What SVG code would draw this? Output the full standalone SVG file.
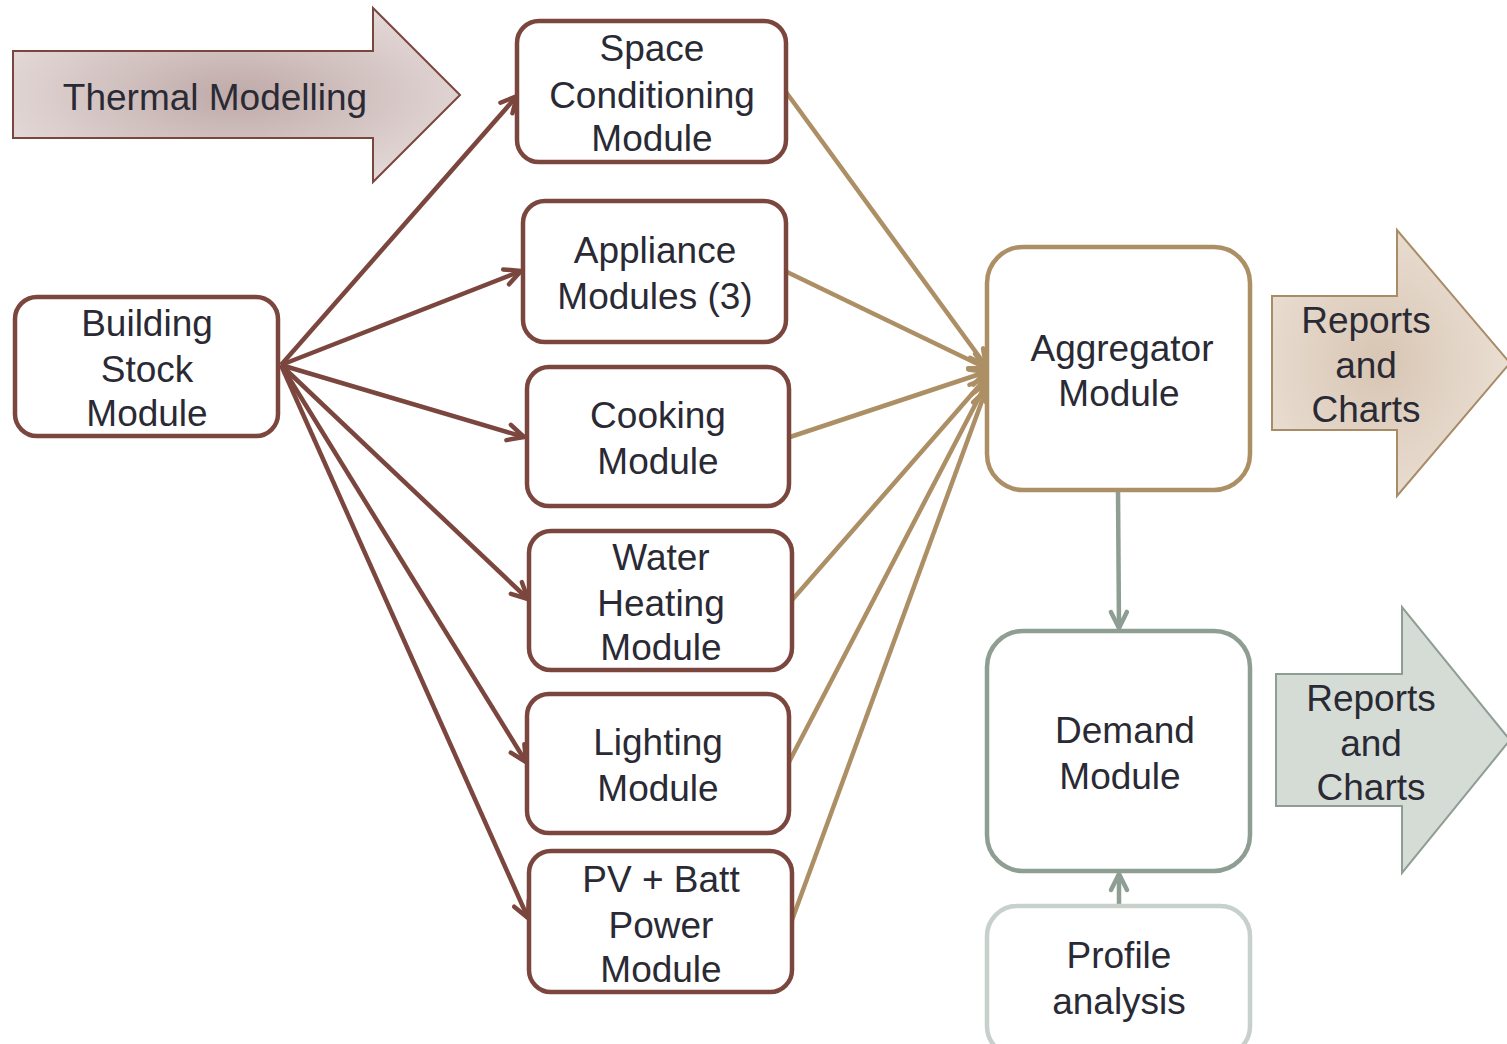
<svg xmlns="http://www.w3.org/2000/svg" width="1507" height="1044" viewBox="0 0 1507 1044">
<defs>
<radialGradient id="gThermal" cx="0.5" cy="0.5" r="0.6">
<stop offset="0" stop-color="#bfaaa8"/><stop offset="1" stop-color="#e6dcdb"/>
</radialGradient>
<radialGradient id="gTan" cx="0.45" cy="0.5" r="0.6">
<stop offset="0" stop-color="#d8c5b3"/><stop offset="1" stop-color="#ebe1d6"/>
</radialGradient>
<marker id="mBrown" viewBox="0 0 24 24" refX="20" refY="12" markerWidth="24" markerHeight="24" markerUnits="userSpaceOnUse" orient="auto">
<path d="M4,4 L20,12 L4,20" fill="none" stroke="#7b463e" stroke-width="4.5" stroke-linecap="round" stroke-linejoin="round"/>
</marker>
<marker id="mTan" viewBox="0 0 24 24" refX="20" refY="12" markerWidth="24" markerHeight="24" markerUnits="userSpaceOnUse" orient="auto">
<path d="M4,4 L20,12 L4,20" fill="none" stroke="#ad8f66" stroke-width="4.5" stroke-linecap="round" stroke-linejoin="round"/>
</marker>
<marker id="mGrey" viewBox="0 0 24 24" refX="20" refY="12" markerWidth="24" markerHeight="24" markerUnits="userSpaceOnUse" orient="auto">
<path d="M4,4 L20,12 L4,20" fill="none" stroke="#8e9e93" stroke-width="4.5" stroke-linecap="round" stroke-linejoin="round"/>
</marker>
</defs>
<style>
text{font-family:"Liberation Sans",Arial,sans-serif;font-size:37px;fill:#2a2a35;text-anchor:middle}
.bn{fill:#fff;stroke:#7b463e;stroke-width:4.5}
.ce{stroke:#7b463e;stroke-width:4.5;fill:none;marker-end:url(#mBrown)}
.te{stroke:#ad8f66;stroke-width:4.5;fill:none;marker-end:url(#mTan)}
.ge{stroke:#8e9e93;stroke-width:4.5;fill:none;marker-end:url(#mGrey)}
</style>
<rect width="1507" height="1044" fill="#fff"/>
<g id="thermal">
<path d="M13,51 H373 V8 L460,95 L373,182 V138 H13 Z" fill="url(#gThermal)" stroke="#7b463e" stroke-width="2"/>
<text x="215" y="110">Thermal Modelling</text>
</g>
<g id="reports1">
<path d="M1272,296 H1397 V230 L1510,363 L1397,496 V430 H1272 Z" fill="url(#gTan)" stroke="#a88c68" stroke-width="2"/>
<text x="1366" y="333">Reports</text><text x="1366" y="378">and</text><text x="1366" y="422">Charts</text>
</g>
<g id="reports2">
<path d="M1276,674 H1402 V607 L1510,740 L1402,873 V806 H1276 Z" fill="#d5dcd6" stroke="#8f9e94" stroke-width="2"/>
<text x="1371" y="711">Reports</text><text x="1371" y="756">and</text><text x="1371" y="800">Charts</text>
</g>
<g id="connectors">
<line class="ce" x1="281" y1="365" x2="517" y2="96"/>
<line class="ce" x1="281" y1="365" x2="521" y2="271"/>
<line class="ce" x1="281" y1="365" x2="524" y2="437"/>
<line class="ce" x1="281" y1="365" x2="528" y2="599"/>
<line class="ce" x1="281" y1="365" x2="526" y2="762"/>
<line class="ce" x1="281" y1="365" x2="528" y2="918"/>
<line class="te" x1="786" y1="92" x2="986" y2="366"/>
<line class="te" x1="787" y1="272" x2="986" y2="368"/>
<line class="te" x1="790" y1="437" x2="986" y2="372"/>
<line class="te" x1="792" y1="600" x2="986" y2="378"/>
<line class="te" x1="789" y1="762" x2="986" y2="384"/>
<line class="te" x1="792" y1="920" x2="986" y2="390"/>
<line class="ge" x1="1118" y1="490" x2="1119" y2="628"/>
<line class="ge" x1="1119" y1="906" x2="1119" y2="874"/>
</g>
<g id="building"><rect class="bn" x="15" y="297" width="263" height="139" rx="22"/>
<text x="147" y="336">Building</text><text x="147" y="382">Stock</text><text x="147" y="426">Module</text></g>
<g id="space"><rect class="bn" x="517" y="21" width="269" height="141" rx="22"/>
<text x="652" y="61">Space</text><text x="652" y="108">Conditioning</text><text x="652" y="151">Module</text></g>
<g id="appliance"><rect class="bn" x="523" y="201" width="263" height="141" rx="22"/>
<text x="655" y="263">Appliance</text><text x="655" y="309">Modules (3)</text></g>
<g id="cooking"><rect class="bn" x="527" y="367" width="262" height="139" rx="22"/>
<text x="658" y="428">Cooking</text><text x="658" y="474">Module</text></g>
<g id="water"><rect class="bn" x="529" y="531" width="263" height="139" rx="22"/>
<text x="661" y="570">Water</text><text x="661" y="616">Heating</text><text x="661" y="660">Module</text></g>
<g id="lighting"><rect class="bn" x="527" y="694" width="262" height="139" rx="22"/>
<text x="658" y="755">Lighting</text><text x="658" y="801">Module</text></g>
<g id="pv"><rect class="bn" x="529" y="851" width="263" height="141" rx="22"/>
<text x="661" y="892">PV + Batt</text><text x="661" y="938">Power</text><text x="661" y="982">Module</text></g>
<g id="aggregator"><rect x="987" y="247" width="263" height="243" rx="36" fill="#fff" stroke="#ad8f66" stroke-width="4.5"/>
<text x="1122" y="361">Aggregator</text><text x="1119" y="406">Module</text></g>
<g id="demand"><rect x="987" y="631" width="263" height="240" rx="36" fill="#fff" stroke="#8e9e93" stroke-width="4.5"/>
<text x="1125" y="743">Demand</text><text x="1120" y="789">Module</text></g>
<g id="profile"><rect x="987" y="906" width="263" height="150" rx="30" fill="#fff" stroke="#c8d0cb" stroke-width="4.5"/>
<text x="1119" y="968">Profile</text><text x="1119" y="1014">analysis</text></g>
</svg>
